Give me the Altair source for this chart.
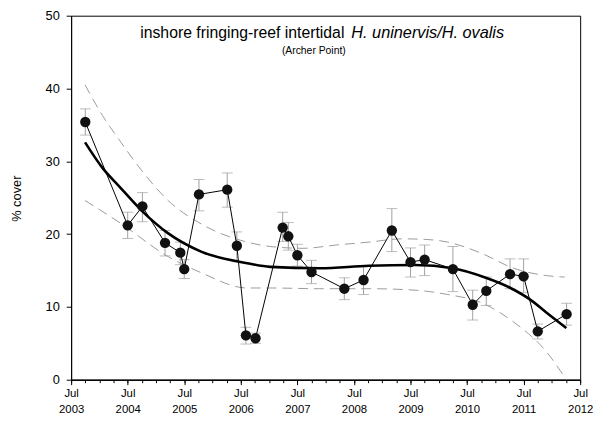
import altair as alt
import pandas as pd

# survey dates (decimal years) and % cover with error bars
dates = [2003.75, 2004.50, 2004.76, 2005.16, 2005.43, 2005.50, 2005.76, 2006.26, 2006.43,
         2006.59, 2006.76, 2007.24, 2007.34, 2007.50, 2007.75, 2008.33, 2008.67, 2009.17,
         2009.50, 2009.75, 2010.25, 2010.60, 2010.84, 2011.26, 2011.50, 2011.75, 2012.26]
cover = [35.4, 21.2, 23.8, 18.8, 17.45, 15.2, 25.45, 26.1, 18.4,
         6.1, 5.7, 20.9, 19.7, 17.1, 14.8, 12.5, 13.7, 20.5,
         16.15, 16.5, 15.2, 10.3, 12.2, 14.5, 14.2, 6.65, 9.0]
err_lo = [33.6, 19.4, 21.7, 17.0, 15.8, 13.9, 23.2, 23.7, 16.2,
          4.9, 5.0, 19.0, 17.8, 15.6, 13.2, 11.0, 11.7, 17.6,
          14.1, 14.3, 12.1, 8.2, 10.2, 12.5, 12.0, 5.6, 7.5]
err_hi = [37.2, 23.0, 25.7, 20.5, 18.9, 16.5, 27.5, 28.4, 20.3,
          7.2, 6.4, 23.0, 21.6, 18.6, 16.4, 14.0, 15.6, 23.5,
          18.1, 18.5, 18.3, 12.3, 14.1, 16.6, 16.6, 7.65, 10.5]

# fitted trend and its confidence band
trend_x = [2003.746, 2004.053, 2004.345, 2004.751, 2005.217, 2005.798, 2006.613, 2007.02,
           2007.893, 2008.765, 2009.58, 2010.249, 2010.832, 2011.268, 2011.617, 2011.907, 2012.256]
trend_y = [32.6, 29.1, 26.6, 23.2, 20.1, 17.6, 16.0, 15.5,
           15.3, 15.65, 15.75, 15.3, 14.0, 12.6, 11.0, 9.2, 7.1]

upper_x = [2003.746, 2004.053, 2004.345, 2004.751, 2005.217, 2005.798, 2006.613, 2007.02,
           2007.602, 2008.184, 2008.765, 2009.347, 2009.7, 2010.16, 2010.745, 2011.327, 2011.907, 2012.227]
upper_y = [40.5, 36.3, 33.0, 28.7, 24.6, 21.4, 18.9, 18.3,
           18.05, 18.5, 18.9, 19.35, 19.3, 18.9, 17.4, 15.3, 14.3, 14.1]

lower_x = [2003.746, 2004.345, 2005.217, 2005.798, 2006.613, 2007.02, 2007.893, 2008.765,
           2009.58, 2010.16, 2010.745, 2011.327, 2011.907, 2012.256]
lower_y = [24.6, 21.65, 16.9, 14.7, 12.6, 12.6, 12.5, 12.5,
           12.3, 11.7, 10.6, 7.9, 3.8, 0.0]

obs = pd.DataFrame({"date": dates, "cover": cover, "lo": err_lo, "hi": err_hi})
trend = pd.DataFrame({"date": trend_x, "cover": trend_y})
upper = pd.DataFrame({"date": upper_x, "cover": upper_y})
lower = pd.DataFrame({"date": lower_x, "cover": lower_y})

FONT = "Liberation Sans"
xscale = alt.Scale(domain=[2003.5, 2012.5], nice=False, zero=False)
yscale = alt.Scale(domain=[0, 50], nice=False)

minor_axis = alt.Axis(
    orient="bottom", values=[2003.5 + 0.25 * i for i in range(37)], labels=False,
    tickSize=3, tickColor="black", domainColor="black", grid=False, title=None)
major_axis = alt.Axis(
    orient="bottom", values=[2003.5 + i for i in range(10)], tickSize=5,
    tickColor="black", domainColor="black", grid=False, title=None,
    labelExpr="['Jul', '' + floor(datum.value)]", labelFont=FONT, labelFontSize=11.5,
    labelColor="black", labelLineHeight=16, labelPadding=3, labelFlush=False)
yaxis = alt.Axis(
    values=[0, 10, 20, 30, 40, 50], tickSize=5, tickColor="black", domainColor="black",
    grid=False, labelFont=FONT, labelFontSize=13, labelColor="black", labelPadding=7,
    title="% cover", titleFont=FONT, titleFontSize=13, titleFontWeight="normal",
    titleColor="black", titleX=-55, titleY=185, titleAngle=-90, titleBaseline="middle",
    titleAlign="center")

Y = lambda f: alt.Y(f, scale=yscale, axis=yaxis)
xn = alt.X("date:Q", scale=xscale, axis=None)

up = alt.Chart(upper).mark_line(color="#9a9a9a", strokeDash=[10, 6], strokeWidth=1,
                                interpolate="monotone").encode(
    x=alt.X("date:Q", scale=xscale, axis=minor_axis), y=Y("cover:Q"))
lw = alt.Chart(lower).mark_line(color="#9a9a9a", strokeDash=[10, 6], strokeWidth=1,
                                interpolate="monotone", clip=True).encode(
    x=alt.X("date:Q", scale=xscale, axis=major_axis), y=Y("cover:Q"))

bars = alt.Chart(obs).mark_rule(color="#a0a0a0", strokeWidth=1).encode(
    x=xn, y=Y("lo:Q"), y2="hi:Q")
cap_lo = alt.Chart(obs).mark_tick(color="#a0a0a0", orient="horizontal", size=11,
                                  thickness=1).encode(x=xn, y=Y("lo:Q"))
cap_hi = alt.Chart(obs).mark_tick(color="#a0a0a0", orient="horizontal", size=11,
                                  thickness=1).encode(x=xn, y=Y("hi:Q"))
conn = alt.Chart(obs).mark_line(color="black", strokeWidth=1).encode(x=xn, y=Y("cover:Q"))
tr = alt.Chart(trend).mark_line(color="black", strokeWidth=2.6,
                                interpolate="monotone").encode(x=xn, y=Y("cover:Q"))
pts = alt.Chart(obs).mark_point(filled=True, shape="circle", color="#111111",
                                size=110, opacity=1).encode(x=xn, y=Y("cover:Q"))

title_data = pd.DataFrame({"a": [0]})
t1 = alt.Chart(title_data).mark_text(text="inshore fringing-reef intertidal", font=FONT,
                                     fontSize=16, align="right", baseline="alphabetic",
                                     color="black").encode(
    x=alt.value(277), y=alt.value(23))
t2 = alt.Chart(title_data).mark_text(text="H. uninervis/H. ovalis", font=FONT, fontSize=16.5,
                                     fontStyle="italic", align="left", baseline="alphabetic",
                                     color="black").encode(
    x=alt.value(284), y=alt.value(23))
t3 = alt.Chart(title_data).mark_text(text="(Archer Point)", font=FONT, fontSize=10.5,
                                     align="center", baseline="alphabetic",
                                     color="black").encode(
    x=alt.value(246), y=alt.value(39))

chart = alt.layer(up, lw, bars, cap_lo, cap_hi, conn, tr, pts, t1, t2, t3).resolve_axis(
    x="independent").properties(
    width=516, height=369,
    autosize=alt.AutoSizeParams(type="none"),
    padding={"left": 64, "top": 5, "right": 13, "bottom": 36},
    background="white",
).configure_view(stroke="black", strokeWidth=1)

chart.save("out.html", embed_options={"renderer": "svg", "actions": False})
